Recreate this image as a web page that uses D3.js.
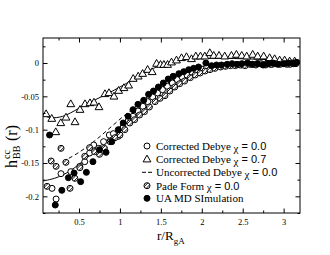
<!DOCTYPE html>
<html><head><meta charset="utf-8">
<script src="https://cdn.jsdelivr.net/npm/d3@7"></script>
<style>body{margin:0;background:#fff}</style>
</head><body>
<svg id="c" width="330" height="255"></svg>
<script>
// ---- data ----
const xTicks = [0.5, 1, 1.5, 2, 2.5, 3];
const xTickLabels = ["0.5", "1", "1.5", "2", "2.5", "3"];
const yTicks = [0, -0.05, -0.1, -0.15, -0.2];
const yTickLabels = ["0", "-0.05", "-0.1", "-0.15", "-0.2"];
const legendLabels = ["Corrected Debye ", "Corrected Debye ", "Uncorrected Debye ", "Pade Form ", "UA MD SImulation"];
const legendChi = [" = 0.0", " = 0.7", " = 0.0", " = 0.0", null];

// Corrected Debye chi=0.0 (solid curve)
const lineChi0 = [[0.06,-0.177],[0.2,-0.173],[0.3,-0.168],[0.4,-0.161],[0.5,-0.152],[0.6,-0.142],[0.7,-0.131],[0.8,-0.120],[0.9,-0.108],[1.0,-0.095],[1.1,-0.083],[1.2,-0.071],[1.3,-0.059],[1.4,-0.048],[1.5,-0.038],[1.6,-0.029],[1.7,-0.021],[1.8,-0.015],[1.9,-0.010],[2.0,-0.006],[2.2,-0.002],[2.4,0.000],[2.7,0.001],[3.2,0.000]];
// Corrected Debye chi=0.7 (solid curve)
const lineChi07 = [[0.06,-0.078],[0.15,-0.082],[0.3,-0.080],[0.5,-0.068],[0.7,-0.055],[0.85,-0.046],[1.0,-0.036],[1.16,-0.025],[1.3,-0.015],[1.41,-0.008],[1.53,-0.002],[1.7,0.003],[1.9,0.006],[2.2,0.007],[2.6,0.006],[3.0,0.004],[3.2,0.003]];
// Uncorrected Debye chi=0.0 (dashed)
const lineUncorr = [[0.3,-0.148],[0.5,-0.134],[0.7,-0.116],[0.9,-0.095],[1.1,-0.074],[1.3,-0.054],[1.5,-0.036],[1.7,-0.021],[1.9,-0.010],[2.1,-0.003],[2.4,0.001],[2.8,0.001],[3.2,0.000]];

// open circles
const openPts = [[0.17,-0.188],[0.22,-0.204],[0.28,-0.166],[0.40,-0.163],[0.51,-0.155],[0.57,-0.148],[0.63,-0.135],[0.68,-0.123],[0.74,-0.128],[0.80,-0.118],[0.87,-0.108],[0.92,-0.106],[0.98,-0.110],[1.04,-0.097],[1.10,-0.087],[1.16,-0.080],[1.22,-0.072],[1.28,-0.065],[1.34,-0.058],[1.40,-0.051],[1.46,-0.045],[1.52,-0.040],[1.58,-0.035],[1.64,-0.030],[1.70,-0.025],[1.76,-0.021],[1.82,-0.018],[1.88,-0.014],[1.94,-0.012],[2.00,-0.009],[2.06,-0.007],[2.12,-0.006],[2.18,-0.005],[2.25,-0.004],[2.31,-0.003],[2.37,-0.003],[2.43,-0.002],[2.49,-0.003],[2.55,-0.001],[2.62,-0.002],[2.68,-0.001],[2.74,-0.002],[2.80,0.000],[2.86,-0.002],[2.92,-0.001],[2.98,0.000],[3.04,-0.002],[3.10,0.000],[3.15,-0.001]];
// triangles
const triPts = [[0.098,-0.0766],[0.167,-0.0836],[0.216,-0.1036],[0.277,-0.090],[0.341,-0.0817],[0.399,-0.0616],[0.451,-0.0886],[0.512,-0.0701],[0.573,-0.0616],[0.634,-0.0601],[0.683,-0.0592],[0.744,-0.0661],[0.817,-0.0465],[0.866,-0.045],[0.927,-0.0502],[0.984,-0.0416],[1.049,-0.0375],[1.106,-0.0336],[1.162,-0.0236],[1.223,-0.0201],[1.277,-0.0161],[1.338,-0.0101],[1.394,-0.0135],[1.448,-0.001],[1.496,-0.0026],[1.537,-0.0026],[1.582,-0.0026],[1.630,0.001],[1.691,0.004],[1.752,0.0075],[1.813,0.009],[1.874,0.006],[1.927,0.010],[1.984,0.010],[2.037,0.010],[2.098,0.015],[2.146,0.011],[2.211,0.011],[2.280,0.010],[2.362,0.011],[2.423,0.0125],[2.488,0.011],[2.549,0.010],[2.622,0.0125],[2.683,0.010],[2.756,0.010],[2.829,0.0075],[2.890,0.006],[2.951,0.004],[3.012,0.004],[3.073,0.0025],[3.134,0.0025]];
// hatched circles (Pade)
const padePts = [[0.11,-0.185],[0.16,-0.147],[0.22,-0.155],[0.28,-0.128],[0.34,-0.149],[0.39,-0.188],[0.45,-0.173],[0.51,-0.157],[0.57,-0.140],[0.63,-0.127],[0.69,-0.133],[0.75,-0.137],[0.81,-0.128],[0.88,-0.118],[0.94,-0.112],[1.00,-0.108],[1.06,-0.100],[1.12,-0.090],[1.18,-0.085],[1.24,-0.078],[1.30,-0.073],[1.36,-0.066],[1.43,-0.058],[1.49,-0.053],[1.55,-0.049],[1.61,-0.042],[1.67,-0.036],[1.73,-0.031],[1.79,-0.027],[1.86,-0.022],[1.92,-0.018],[1.98,-0.015],[2.04,-0.012],[2.10,-0.010],[2.16,-0.008],[2.23,-0.006],[2.29,-0.005],[2.35,-0.004],[2.41,-0.004],[2.47,-0.003],[2.53,-0.004],[2.59,-0.002],[2.66,-0.003],[2.72,-0.001],[2.78,-0.003],[2.84,-0.002],[2.90,-0.001],[2.96,-0.002],[3.02,-0.001],[3.08,-0.002],[3.14,0.000]];
// filled circles (UA MD)
const mdPts = [[0.14,-0.108],[0.21,-0.213],[0.29,-0.191],[0.37,-0.172],[0.44,-0.165],[0.52,-0.178],[0.59,-0.164],[0.67,-0.148],[0.75,-0.130],[0.83,-0.134],[0.90,-0.118],[0.98,-0.100],[1.04,-0.090],[1.10,-0.080],[1.16,-0.070],[1.22,-0.062],[1.29,-0.056],[1.35,-0.047],[1.41,-0.042],[1.47,-0.036],[1.53,-0.030],[1.59,-0.024],[1.65,-0.020],[1.72,-0.016],[1.78,-0.013],[1.84,-0.010],[1.90,-0.008],[1.96,-0.006],[2.05,0.000],[2.12,-0.004],[2.18,-0.003],[2.24,-0.003],[2.31,-0.002],[2.37,-0.001],[2.43,-0.002],[2.49,-0.001],[2.56,0.000],[2.62,-0.002],[2.68,-0.001],[2.75,-0.003],[2.81,-0.001],[2.87,0.000],[2.93,-0.002],[3.00,-0.001],[3.06,0.000],[3.12,-0.001],[3.16,0.001]];

// ---- layout ----
const L = 43, R = 300, T = 38, B = 213;
const x = d3.scaleLinear().domain([0.06, 3.2]).range([L, R]);
const y = d3.scaleLinear().domain([-0.225, 0.0375]).range([B, T]);
const svg = d3.select("#c");
const serif = "'Liberation Serif','Times New Roman',serif";
const sans = "'Liberation Sans',Arial,sans-serif";

svg.append("defs").append("clipPath").attr("id","clip")
  .append("rect").attr("x",L).attr("y",T).attr("width",R-L).attr("height",B-T);

const plot = svg.append("g").attr("clip-path","url(#clip)");
const line = d3.line().x(d=>x(d[0])).y(d=>y(d[1])).curve(d3.curveCatmullRom);
plot.append("path").attr("d",line(lineChi0)).attr("fill","none").attr("stroke","#000").attr("stroke-width",1);
plot.append("path").attr("d",line(lineChi07)).attr("fill","none").attr("stroke","#000").attr("stroke-width",1);
plot.append("path").attr("d",line(lineUncorr)).attr("fill","none").attr("stroke","#000").attr("stroke-width",1).attr("stroke-dasharray","4,3");

const r = 3;
function openCircle(g){ g.append("circle").attr("r",r).attr("fill","#fff").attr("stroke","#000").attr("stroke-width",1); }
function triangle(g){ g.append("path").attr("d","M0,-4.2L3.9,2.6L-3.9,2.6Z").attr("fill","#fff").attr("stroke","#000").attr("stroke-width",1); }
function hatched(g){
  g.append("circle").attr("r",r).attr("fill","#fff").attr("stroke","#000").attr("stroke-width",1);
  [-1.3,1.3].forEach(o=>{
    const h = Math.sqrt(r*r-o*o);
    const cx = o/Math.SQRT2, cy = o/Math.SQRT2;
    const dx = h/Math.SQRT2, dy = -h/Math.SQRT2;
    g.append("line").attr("x1",cx-dx).attr("y1",cy-dy).attr("x2",cx+dx).attr("y2",cy+dy)
      .attr("stroke","#000").attr("stroke-width",0.9);
  });
}
function filled(g){ g.append("circle").attr("r",r).attr("fill","#000").attr("stroke","#000").attr("stroke-width",1); }

function drawPts(data, fn){
  plot.append("g").selectAll("g").data(data).join("g")
    .attr("transform",d=>`translate(${x(d[0])},${y(d[1])})`).each(function(){ fn(d3.select(this)); });
}
drawPts(openPts, openCircle);
drawPts(triPts, triangle);
drawPts(padePts, hatched);
drawPts(mdPts, filled);

// ---- axes (ticks inward on all sides) ----
const xMinor = d3.range(0.25, 3.2, 0.25).filter(v=>!xTicks.some(t=>Math.abs(t-v)<1e-6));
const yMinor = d3.range(-0.225, 0.04, 0.025).map(v=>+v.toFixed(4)).filter(v=>!yTicks.some(t=>Math.abs(t-v)<1e-6));
const ax = svg.append("g");
ax.append("rect").attr("x",L).attr("y",T).attr("width",R-L).attr("height",B-T).attr("fill","none").attr("stroke","#000").attr("stroke-width",1);
const axB = ax.append("g").attr("transform",`translate(0,${B})`).call(d3.axisBottom(x).tickValues(xTicks).tickFormat((d,i)=>xTickLabels[i]).tickSize(-4.5).tickPadding(6));
axB.append("g").call(d3.axisBottom(x).tickValues(xMinor).tickFormat("").tickSize(-2.5));
const axT = ax.append("g").attr("transform",`translate(0,${T})`).call(d3.axisTop(x).tickValues(xTicks).tickFormat("").tickSize(-4.5));
axT.append("g").call(d3.axisTop(x).tickValues(xMinor).tickFormat("").tickSize(-2.5));
const axL = ax.append("g").attr("transform",`translate(${L},0)`).call(d3.axisLeft(y).tickValues(yTicks).tickFormat((d,i)=>yTickLabels[i]).tickSize(-4.5).tickPadding(4));
axL.append("g").call(d3.axisLeft(y).tickValues(yMinor).tickFormat("").tickSize(-2.5));
const axR = ax.append("g").attr("transform",`translate(${R},0)`).call(d3.axisRight(y).tickValues(yTicks).tickFormat("").tickSize(-4.5));
axR.append("g").call(d3.axisRight(y).tickValues(yMinor).tickFormat("").tickSize(-2.5));
ax.selectAll(".domain").remove();
ax.selectAll("text").attr("font-family",serif).attr("font-size","8.5px").attr("fill","#000");
ax.selectAll(".tick line").attr("stroke","#000");

// ---- axis titles ----
const xt = svg.append("text").attr("x",157).attr("y",240).attr("font-family",serif).attr("font-size","13px").attr("fill","#000");
xt.append("tspan").text("r/R");
xt.append("tspan").attr("dy",4).attr("font-size","9px").text("gA");

const yg = svg.append("g").attr("transform","translate(17,0) rotate(-90)").attr("font-family",serif).attr("fill","#000");
yg.append("text").attr("x",-168).attr("y",0).attr("font-size","16px").text("h");
yg.append("text").attr("x",-159).attr("y",-7).attr("font-size","10px").text("cc");
yg.append("text").attr("x",-159).attr("y",3).attr("font-size","10px").text("BB");
yg.append("text").attr("x",-141).attr("y",0).attr("font-size","16px").text("(r)");

// ---- legend ----
const legY = [146, 159.3, 172.3, 185.7, 198.3];
const legFns = [openCircle, triangle, null, hatched, filled];
legY.forEach((ly,i)=>{
  const g = svg.append("g").attr("transform",`translate(147,${ly})`);
  if(legFns[i]) legFns[i](g);
  else g.append("line").attr("x1",-5).attr("x2",5).attr("y1",0).attr("y2",0).attr("stroke","#000").attr("stroke-dasharray","4,2");
  const t = svg.append("text").attr("x",156).attr("y",ly+4).attr("font-family",serif).attr("font-size","11px").attr("fill","#000");
  t.append("tspan").text(legendLabels[i]);
  if(legendChi[i]){
    t.append("tspan").attr("dy",1.5).text("\u03c7");
    t.append("tspan").attr("dy",-1.5).attr("font-family",sans).text(legendChi[i]);
  }
});
</script>
</body></html>
